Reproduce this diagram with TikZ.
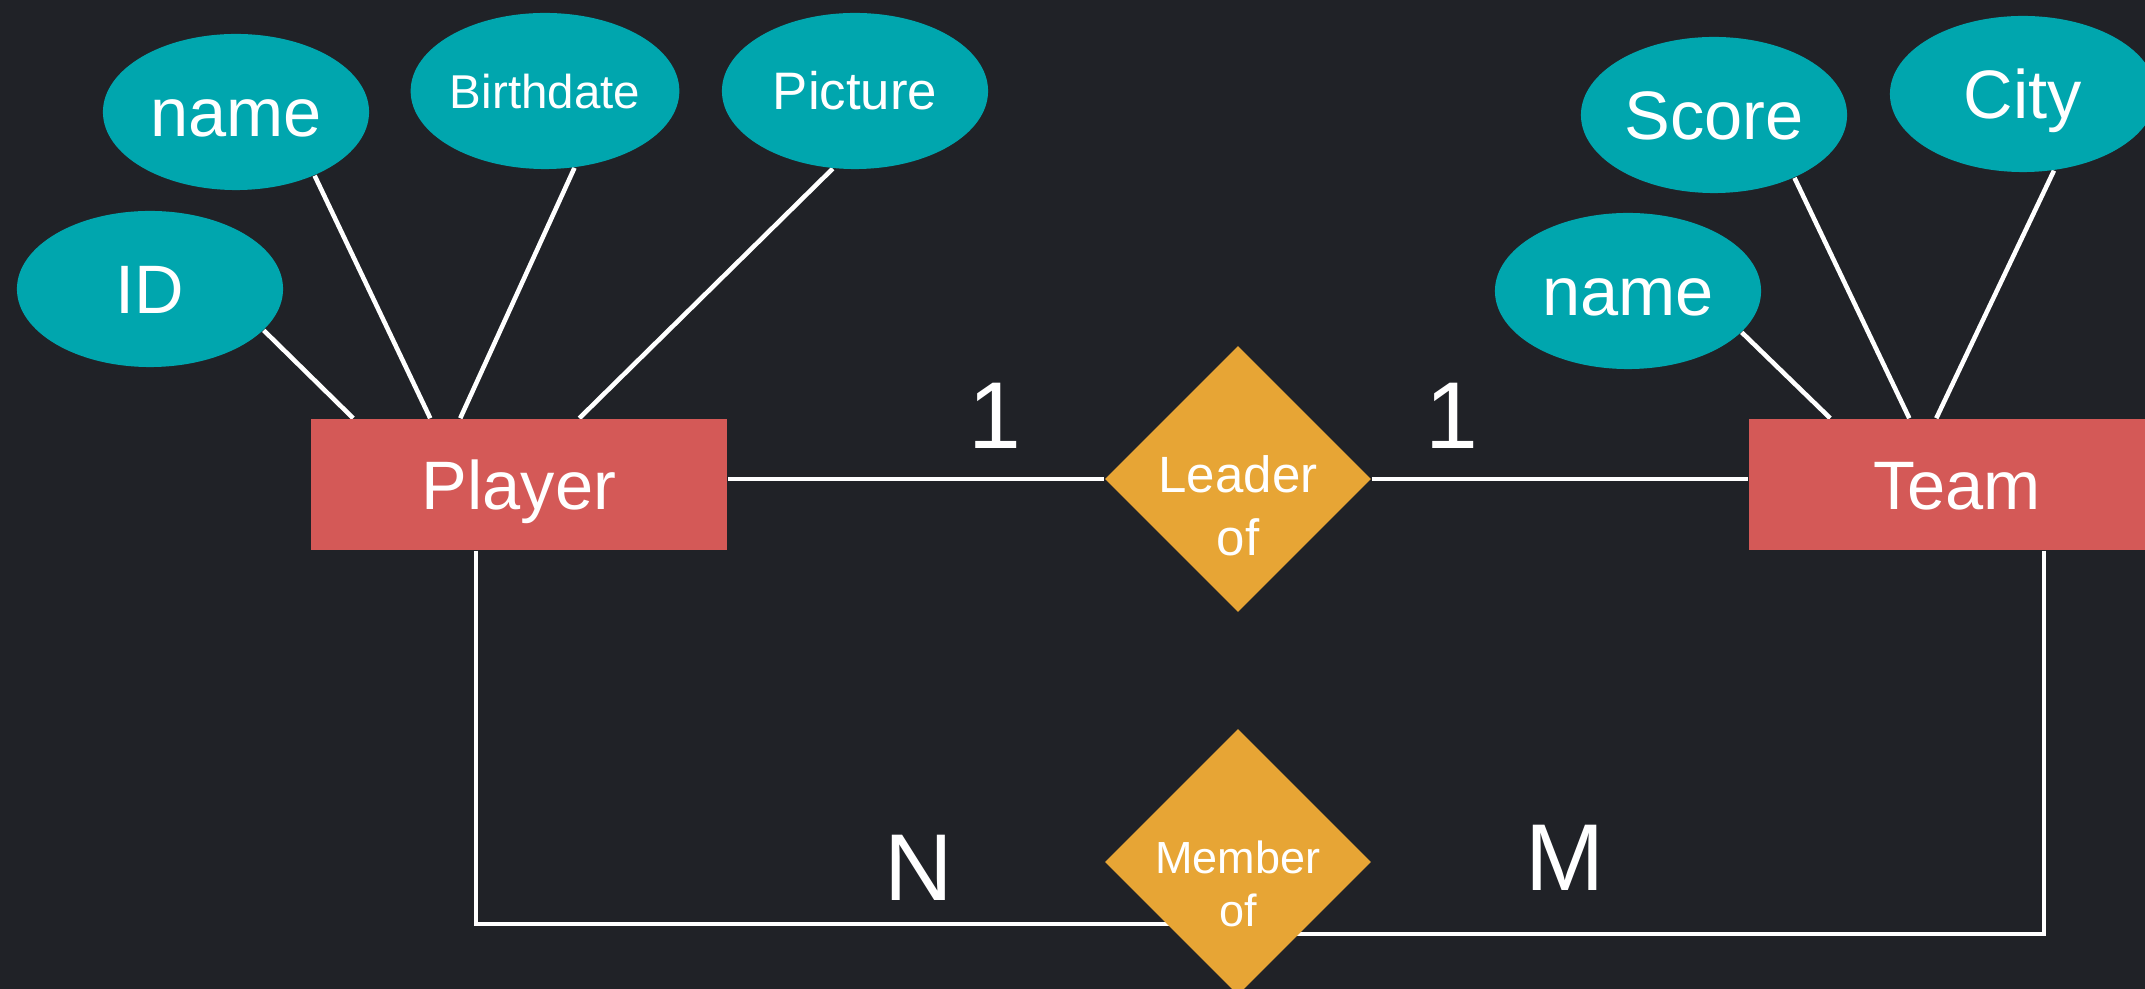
\documentclass[tikz,border=0pt]{standalone}
\usepackage{fontspec}
\setmainfont{Liberation Sans}
\usetikzlibrary{shapes.geometric, calc, backgrounds}
\definecolor{bgdark}{RGB}{32,34,39}
\definecolor{attrteal}{RGB}{0,166,174}
\definecolor{entred}{RGB}{212,89,87}
\definecolor{relorange}{RGB}{231,165,53}
\tikzset{
    attr/.style={ellipse, fill=attrteal, text=white, inner sep=0pt,
        minimum width=2.66cm, minimum height=1.56cm,
        font=\fontsize{19.5}{23}\selectfont, text height=14pt, text depth=0pt},
    entity/.style={rectangle, fill=entred, text=white, inner sep=0pt,
        minimum width=4.16cm, minimum height=1.31cm,
        font=\fontsize{19.5}{23}\selectfont, text height=14pt, text depth=0pt},
    rel/.style={diamond, fill=relorange, inner sep=0pt,
        minimum width=2.66cm, minimum height=2.66cm},
    reltext/.style={text=white, align=center, inner sep=0pt},
    card/.style={text=white, inner sep=0pt, font=\fontsize{27}{32}\selectfont},
    link/.style={draw=white, line width=1.3pt}
}

\begin{document}
\begin{tikzpicture}[x=0.01cm, y=-0.01cm]
    \useasboundingbox (0,0) rectangle (2145,989);

    % entities
    \node[entity] (Player) at (519,484.5) {Player};
    \node[entity] (Team) at (1957,484.5) {Team};

    % attributes
    \node[attr] (ID) at (150,289) {ID};
    \node[attr] (pname) at (236,112) {name};
    \node[attr, font=\fontsize{13.5}{16}\selectfont, text height=9.7pt] (birth) at (545,91) {Birthdate};
    \node[attr, font=\fontsize{15}{18}\selectfont, text height=10.7pt] (pic) at (855,91) {Picture};
    \node[attr] (tname) at (1628,291) {name};
    \node[attr] (score) at (1714,115) {Score};
    \node[attr] (city) at (2023,94) {City};

    % relationships
    \node[rel] (Leader) at (1238,479) {};
    \node[rel] (Member) at (1238,862) {};
    \node[reltext, font=\fontsize{14.5}{18}\selectfont] (leadtext) at (1238,506) {Leader\\of};
    \node[reltext, font=\fontsize{12.8}{15}\selectfont] (membtext) at (1238,884) {Member\\of};

    % cardinalities
    \node[card] (oneL) at (995,416) {1};
    \node[card] (oneR) at (1452,416) {1};
    \node[card] (cardN) at (919,868) {N};
    \node[card] (cardM) at (1565,858) {M};

    \coordinate (nbend) at (476,924);
    \coordinate (mbend) at (2044,934);

    \begin{scope}[on background layer]
        \fill[bgdark] (0,0) rectangle (2145,989);
        \draw[link] (ID.-20) -- ([xshift=0.43cm]Player.north west);
        \draw[link] (pname.-39.5) -- ([xshift=1.2cm]Player.north west);
        \draw[link] (birth.-69) -- ([xshift=1.5cm]Player.north west);
        \draw[link] (pic.-106.5) -- ([xshift=2.69cm]Player.north west);
        \draw[link] (tname.-20.5) -- ([xshift=0.82cm]Team.north west);
        \draw[link] (score.-38.5) -- ([xshift=1.61cm]Team.north west);
        \draw[link] (city.-68) -- ([xshift=1.88cm]Team.north west);
        \draw[link] (Leader.west -| Player.east) -- (Leader.west);
        \draw[link] (Leader.east) -- (Leader.east -| Team.west);
        \draw[link] (Player.south -| nbend) -- (nbend) -- (nbend -| Member.center);
        \draw[link] (Team.south -| mbend) -- (mbend) -- (mbend -| Member.center);
    \end{scope}
\end{tikzpicture}
\end{document}
